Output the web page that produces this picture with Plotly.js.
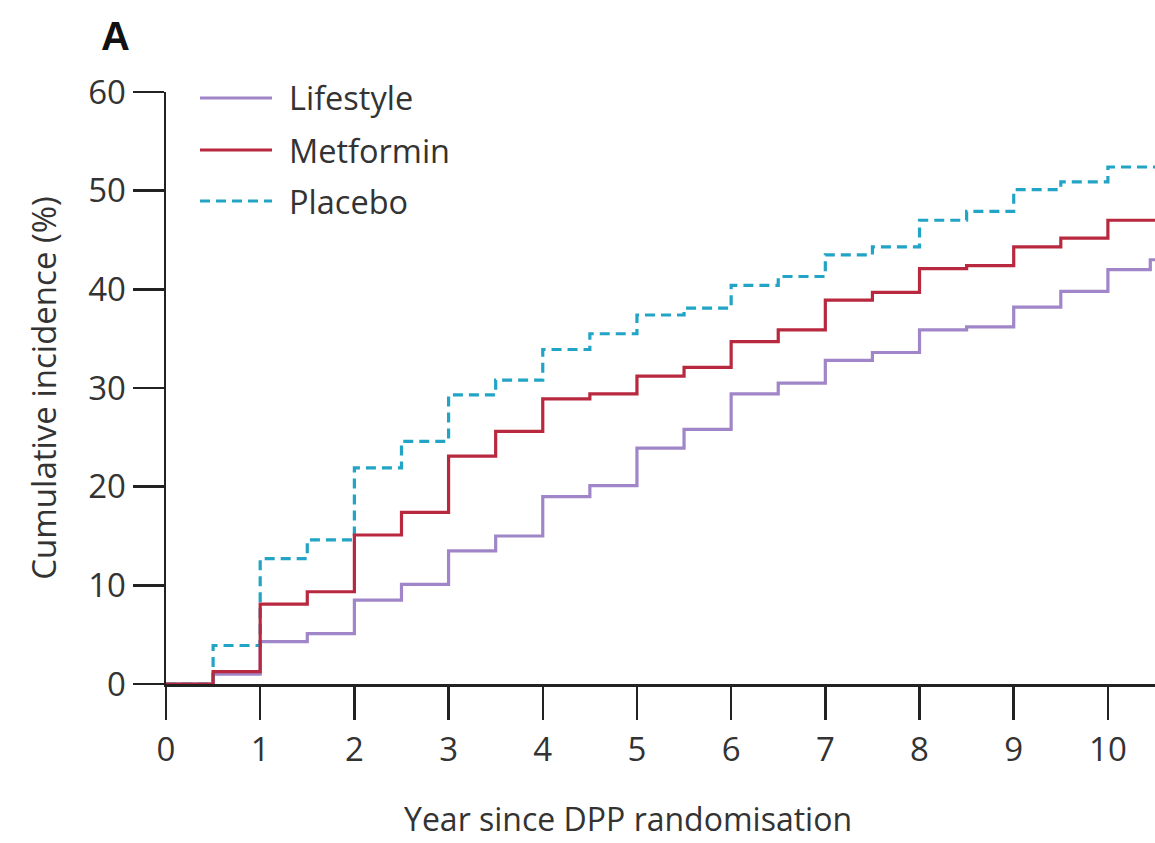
<!DOCTYPE html>
<html><head><meta charset="utf-8">
<script src="https://cdn.plot.ly/plotly-3.0.1.min.js"></script>
<style>html,body{margin:0;padding:0;background:#fff}#chart{width:1155px;height:843px}</style>
</head><body><div id="chart"></div>
<script>
const years = [0,0.5,1,1.5,2,2.5,3,3.5,4,4.5,5,5.5,6,6.5,7,7.5,8,8.5,9,9.5,10,10.5];
const yearsLifestyle = [0,0.5,1,1.5,2,2.5,3,3.5,4,4.5,5,5.5,6,6.5,7,7.5,8,8.5,9,9.5,10,10.45,10.5];
const lifestyle = [0,1.0,4.3,5.1,8.5,10.1,13.5,15.0,19.0,20.1,23.9,25.8,29.4,30.5,32.8,33.6,35.9,36.2,38.2,39.8,42.0,43.0,43.0];
const metformin = [0,1.25,8.1,9.35,15.1,17.4,23.1,25.6,28.9,29.4,31.2,32.1,34.7,35.9,38.9,39.7,42.1,42.4,44.3,45.2,47.0,47.0];
const placebo = [0,3.9,12.7,14.6,21.9,24.6,29.3,30.8,33.9,35.5,37.4,38.1,40.4,41.3,43.5,44.3,47.0,47.9,50.1,50.9,52.4,52.4];
const seriesNames = ["Lifestyle","Metformin","Placebo"];
const xTicks = [0,1,2,3,4,5,6,7,8,9,10];
const yTicks = [0,10,20,30,40,50,60];

const colors = ["#a086c8","#b8283f","#22a4c6"];
const dashes = ["solid","solid","10px,6px"];
const FONT = "Open Sans, sans-serif";

// plot-area pixel geometry
const L = 166, R = 1155, T = 92, B = 684;
const px = v => (v - L) / (R - L);
const py = v => (B - v) / (B - T);

const traces = [
  {x: yearsLifestyle, y: lifestyle, name: seriesNames[0]},
  {x: years, y: placebo, name: seriesNames[2]},
  {x: years, y: metformin, name: seriesNames[1]}
].map(t => {
  const i = seriesNames.indexOf(t.name);
  return Object.assign(t, {type:"scatter", mode:"lines", line:{shape:"hv", color:colors[i], width:3.2, dash:dashes[i]}, showlegend:false, hoverinfo:"skip"});
});

const legendY = [98, 150, 201];
const shapes = seriesNames.map((n,i) => ({type:"line", xref:"paper", yref:"paper",
  x0:px(200), x1:px(272), y0:py(legendY[i]), y1:py(legendY[i]),
  line:{color:colors[i], width:3.2, dash:dashes[i]}}));
const annotations = seriesNames.map((n,i) => ({text:n, xref:"paper", yref:"paper",
  x:px(287), y:py(legendY[i]), xanchor:"left", yanchor:"middle", showarrow:false,
  font:{family:FONT, size:32.5, color:"#333"}}));
annotations.push({text:"<b>A</b>", xref:"paper", yref:"paper", x:px(115), y:py(36),
  xanchor:"center", yanchor:"middle", showarrow:false, font:{family:"Liberation Sans, Arial, sans-serif", size:40, color:"#111"}});
annotations.push({text:"Year since DPP randomisation", xref:"paper", yref:"paper", x:px(628), y:py(842),
  xanchor:"center", yanchor:"bottom", showarrow:false, font:{family:FONT, size:32, color:"#333"}});

const layout = {
  width:1155, height:843,
  margin:{l:L, r:1155-R, t:T, b:843-B, pad:0},
  paper_bgcolor:"#fff", plot_bgcolor:"#fff",
  font:{family:FONT, color:"#333"},
  xaxis:{range:[0,10.5], tickvals:xTicks, ticktext:xTicks.map(String), ticks:"outside", ticklen:33, tickwidth:2.5, tickcolor:"#222",
    showline:true, linecolor:"#222", linewidth:2.5, showgrid:false, zeroline:false, fixedrange:true,
    tickfont:{family:FONT, size:33, color:"#333"}, ticklabelstandoff:2},
  yaxis:{range:[0,60], tickvals:yTicks, ticktext:yTicks.map(String), ticks:"outside", ticklen:31, tickwidth:2.5, tickcolor:"#222",
    showline:true, linecolor:"#222", linewidth:2.5, showgrid:false, zeroline:false, fixedrange:true,
    tickfont:{family:FONT, size:33, color:"#333"}, ticklabelstandoff:0,
    title:{text:"Cumulative incidence (%)", font:{family:FONT, size:33, color:"#333"}, standoff:22}},
  shapes: shapes,
  annotations: annotations,
  showlegend:false
};
Plotly.newPlot("chart", traces, layout, {displayModeBar:false, staticPlot:true});
</script></body></html>
